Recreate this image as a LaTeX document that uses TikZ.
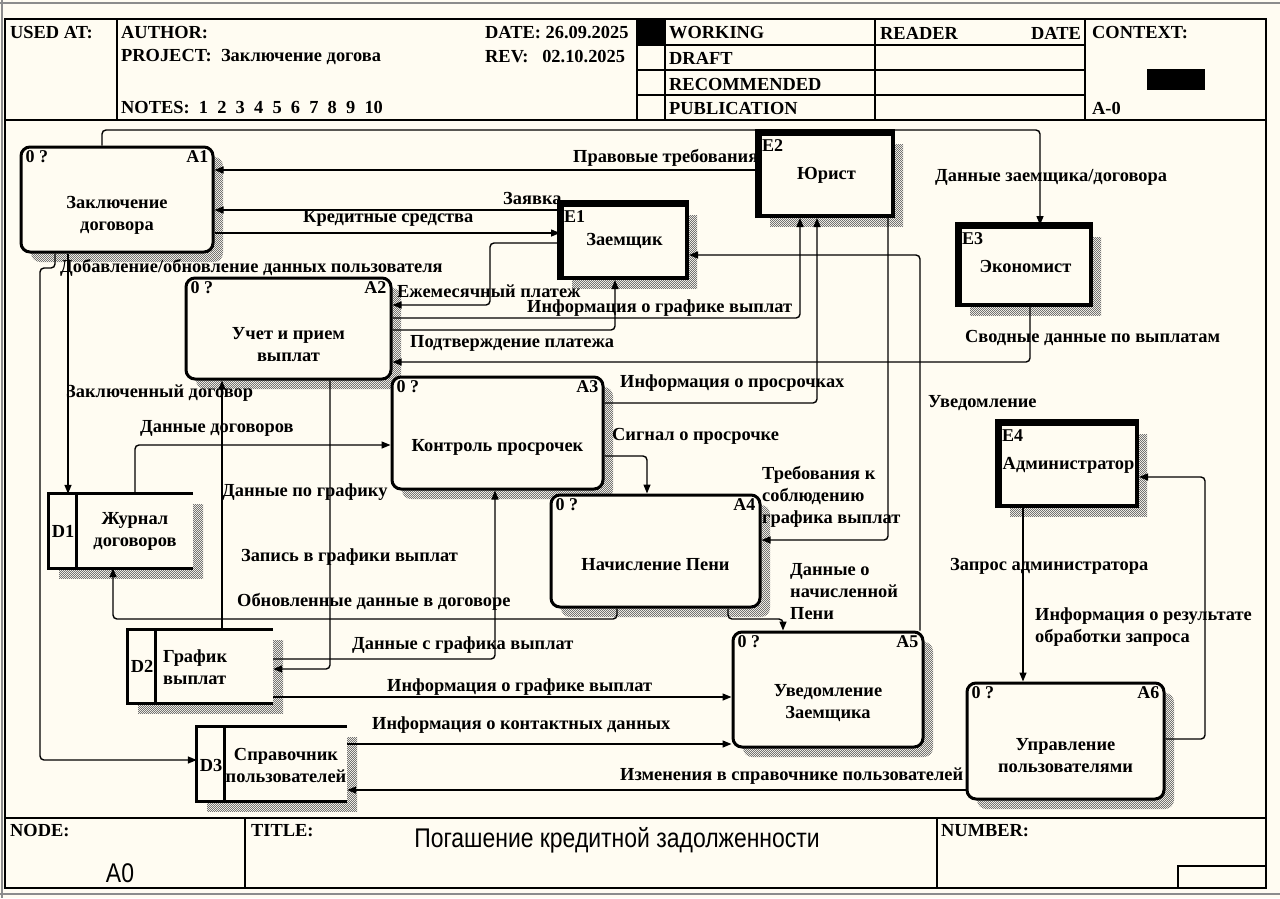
\documentclass[tikz,border=0pt]{standalone}
\usepackage{graphicx}
\usepackage{fontspec}
\setmainfont{Liberation Serif}
\newfontfamily\titlefont{Liberation Sans}
\usetikzlibrary{arrows.meta,shadows,patterns}

\definecolor{paper}{RGB}{255,252,242}

% fine checker used for the box shadows
\pgfdeclarepatternformonly{checker}{\pgfpointorigin}{\pgfqpoint{2.4pt}{2.4pt}}{\pgfqpoint{2.4pt}{2.4pt}}{%
  \pgfpathrectangle{\pgfpointorigin}{\pgfqpoint{1.2pt}{1.2pt}}%
  \pgfpathrectangle{\pgfqpoint{1.2pt}{1.2pt}}{\pgfqpoint{1.2pt}{1.2pt}}%
  \pgfusepath{fill}}

\tikzset{
  lbl/.style={font=\bfseries\fontsize{18.4}{22}\selectfont, inner sep=0pt, align=center},
  lblL/.style={lbl, align=left, anchor=west},
  tag/.style={font=\bfseries\fontsize{18}{20}\selectfont, inner xsep=6pt, inner ysep=5pt},
  etag/.style={tag, inner xsep=4pt, inner ysep=7pt},
  frame/.style={line width=1.6pt},
  flow/.style={draw, line width=1.4pt, rounded corners=4pt, -{Triangle[length=9pt,width=7pt]}},
  hatch/.style={general shadow={shadow xshift=10pt, shadow yshift=-10pt,
    pattern=checker, pattern color=black!55}},
  proc/.style={draw, line width=3pt, rounded corners=9pt, fill=paper, hatch},
  extent/.style={draw, line width=4pt, fill=paper, hatch, lbl},
  store/.style={fill=paper, hatch},
  storeline/.style={line width=3pt},
}

\begin{document}
\begin{tikzpicture}[x=1pt,y=-1pt]
	\useasboundingbox (0,0) rectangle (1280,898);
	\fill[paper] (0,0) rectangle (1280,898);

	% window edge
	\draw[black!45, line width=2pt] (0,3) -- (1280,3);
	\draw[black!45, line width=2pt] (2,0) -- (2,898);
	\draw[black!45, line width=2pt] (0,894) -- (1280,894);

	% form frame
	\draw[frame] (5,19) rectangle (1266,888);
	\draw[frame] (5,120) -- (1266,120);
	\draw[frame] (5,818) -- (1266,818);
	\draw[frame] (117,19) -- (117,120);
	\draw[frame] (637,19) -- (637,120);
	\draw[frame] (665,19) -- (665,120);
	\draw[frame] (875,19) -- (875,120);
	\draw[frame] (1085,19) -- (1085,120);
	\foreach \y in {45,70,95}
		\draw[frame] (637,\y) -- (1085,\y);
	\fill (637,19) rectangle (665,45);
	\fill (1147,69) rectangle (1205,90);
	\draw[frame] (245,818) -- (245,888);
	\draw[frame] (937,818) -- (937,888);
	\draw[frame] (1178,866) rectangle (1266,888);

	% header
	\node[lblL] (usedat) at (10,33) {USED AT:};
	\node[lblL] (author) at (121,33) {AUTHOR:};
	\node[lblL] (project) at (121,57) {PROJECT:\ \ Заключение догова};
	\node[lblL] (notes) at (121,108) {NOTES:\ \ 1\ \ 2\ \ 3\ \ 4\ \ 5\ \ 6\ \ 7\ \ 8\ \ 9\ \ 10};
	\node[lblL] (date) at (485,33) {DATE: 26.09.2025};
	\node[lblL] (rev) at (485,57) {REV:\ \ \ 02.10.2025};
	\node[lblL] (working) at (669,33) {WORKING};
	\node[lblL] (draft) at (669,58) {DRAFT};
	\node[lblL] (recom) at (669,84) {RECOMMENDED};
	\node[lblL] (public) at (669,108) {PUBLICATION};
	\node[lblL] (reader) at (880,33) {READER};
	\node[lbl, anchor=east] (rdate) at (1081,33) {DATE};
	\node[lblL] (context) at (1092,33) {CONTEXT:};
	\node[lblL] (ctxnode) at (1092,108) {A-0};

	% footer
	\node[lblL] (nodelbl) at (10,831) {NODE:};
	\node[lblL] (titlelbl) at (251,831) {TITLE:};
	\node[lblL] (numberlbl) at (941,831) {NUMBER:};
	\node[font=\titlefont\fontsize{27}{30}\selectfont, inner sep=0pt] (nodeno) at (120,873) {\scalebox{0.85}[1]{A0}};
	\node[font=\titlefont\fontsize{27}{30}\selectfont, inner sep=0pt] (title) at (617,840) {\scalebox{0.85}[1]{Погашение кредитной задолженности}};

	% activities
	\node[proc, minimum width=192pt, minimum height=105pt,
		label={[tag,anchor=north west]north west:0 ?},
		label={[tag,anchor=north east]north east:A1}] (A1) at (117,199.5) {};
	\node[lbl] (A1n) at ([yshift=-16pt]A1.center) {Заключение\\договора};

	\node[proc, minimum width=205pt, minimum height=101pt,
		label={[tag,anchor=north west]north west:0 ?},
		label={[tag,anchor=north east]north east:A2}] (A2) at (288.5,328.5) {};
	\node[lbl] (A2n) at ([yshift=-16pt]A2.center) {Учет и прием\\выплат};

	\node[proc, minimum width=211pt, minimum height=112pt,
		label={[tag,anchor=north west]north west:0 ?},
		label={[tag,anchor=north east]north east:A3}] (A3) at (497.5,433) {};
	\node[lbl] (A3n) at ([yshift=-14pt]A3.center) {Контроль просрочек};

	\node[proc, minimum width=209pt, minimum height=112pt,
		label={[tag,anchor=north west]north west:0 ?},
		label={[tag,anchor=north east]north east:A4}] (A4) at (655.5,551) {};
	\node[lbl] (A4n) at ([yshift=-14pt]A4.center) {Начисление Пени};

	\node[proc, minimum width=190pt, minimum height=115pt,
		label={[tag,anchor=north west]north west:0 ?},
		label={[tag,anchor=north east]north east:A5}] (A5) at (828,689.5) {};
	\node[lbl] (A5n) at ([yshift=-14pt]A5.center) {Уведомление\\Заемщика};

	\node[proc, minimum width=197pt, minimum height=116pt,
		label={[tag,anchor=north west]north west:0 ?},
		label={[tag,anchor=north east]north east:A6}] (A6) at (1065.5,741) {};
	\node[lbl] (A6n) at ([yshift=-15pt]A6.center) {Управление\\пользователями};

	% external entities
	\node[extent, minimum width=125pt, minimum height=73pt,
		label={[etag,anchor=north west]north west:E1}] (E1) at (624.5,241.5) {Заемщик};
	\draw[line width=7pt] (E1.south west) -- (E1.north west) -- (E1.north east);

	\node[extent, minimum width=133pt, minimum height=82pt,
		label={[etag,anchor=north west]north west:E2}] (E2) at (826.5,175) {Юрист};
	\draw[line width=7pt] (E2.south west) -- (E2.north west) -- (E2.north east);

	\node[extent, minimum width=131pt, minimum height=78pt,
		label={[etag,anchor=north west]north west:E3}] (E3) at (1025.5,266) {Экономист};
	\draw[line width=7pt] (E3.south west) -- (E3.north west) -- (E3.north east);

	\node[extent, minimum width=137pt, minimum height=82pt,
		label={[etag,anchor=north west]north west:E4}] (E4) at (1068.5,465) {Администратор};
	\draw[line width=7pt] (E4.south west) -- (E4.north west) -- (E4.north east);

	% data stores
	\node[store, minimum width=144pt, minimum height=74pt] (D1) at (121,531) {};
	\draw[storeline] (D1.north east) -- (D1.north west) -- (D1.south west) -- (D1.south east);
	\draw[storeline] ([xshift=28pt]D1.north west) -- ([xshift=28pt]D1.south west);
	\node[lbl] (D1k) at (63,531) {D1};
	\node[lbl] (D1n) at (135,531) {Журнал\\договоров};

	\node[store, minimum width=145pt, minimum height=73pt] (D2) at (200.5,666.5) {};
	\draw[storeline] (D2.north east) -- (D2.north west) -- (D2.south west) -- (D2.south east);
	\draw[storeline] ([xshift=28pt]D2.north west) -- ([xshift=28pt]D2.south west);
	\node[lbl] (D2k) at (142,666) {D2};
	\node[lblL] (D2n) at (163,667) {График\\выплат};

	\node[store, minimum width=150pt, minimum height=74pt] (D3) at (272,764) {};
	\draw[storeline] (D3.north east) -- (D3.north west) -- (D3.south west) -- (D3.south east);
	\draw[storeline] ([xshift=28pt]D3.north west) -- ([xshift=28pt]D3.south west);
	\node[lbl] (D3k) at (211,765) {D3};
	\node[lbl] (D3n) at (286,765) {Справочник\\пользователей};

	% flows
	\draw[flow] (A1.north -| 102,0) -- (102,130) -- (1040,130) -- (E3.north -| 1040,0);
	\draw[flow] (E2.west |- 0,170) -- (A1.east |- 0,170);
	\draw[flow] (E1.west |- 0,210) -- (A1.east |- 0,210);
	\draw[flow] (A1.east |- 0,233) -- (E1.west |- 0,233);
	\draw[flow] (A1.south -| 55,0) -- (55,268) -- (40,268) -- (40,760) -- (D3.west |- 0,760);
	\draw[flow] (A1.south -| 68,0) -- (D1.north -| 68,0);
	\draw[flow] (E1.west |- 0,243) -- (490,243) -- (490,305) -- (A2.east |- 0,305);
	\draw[flow] (A2.east |- 0,318) -- (800,318) -- (E2.south -| 800,0);
	\draw[flow] (A2.east |- 0,330) -- (615,330) -- (E1.south -| 615,0);
	\draw[flow] (E3.south -| 1030,0) |- (A2.east |- 0,362);
	\draw[flow] (A3.east |- 0,403) -| (E2.south -| 817,0);
	\draw[flow] (A3.east |- 0,456) -| (A4.north -| 647,0);
	\draw[flow] (E2.south -| 888,0) |- (A4.east |- 0,540);
	\draw[flow] (A5.north -| 920,0) |- (E1.east |- 0,255);
	\draw[flow] (A4.south -| 728,0) |- (783,619) -- (A5.north -| 783,0);
	\draw[flow] (A4.south -| 617,0) -- (617,619) -- (113,619) -- (D1.south -| 113,0);
	\draw[flow] (D1.north -| 135,0) |- (A3.west |- 0,445);
	\draw[flow] (D2.north -| 222,0) -- (A2.south -| 222,0);
	\draw[flow] (A2.south -| 330,0) |- (D2.east |- 0,669);
	\draw[flow] (D2.east |- 0,659) -| (A3.south -| 495,0);
	\draw[flow] (D2.east |- 0,697) -- (A5.west |- 0,697);
	\draw[flow] (D3.east |- 0,744) -- (A5.west |- 0,744);
	\draw[flow] (A6.west |- 0,790) -- (D3.east |- 0,790);
	\draw[flow] (E4.south -| 1023,0) -- (A6.north -| 1023,0);
	\draw[flow] (A6.east |- 0,739) -| (1205,477) -- (E4.east |- 0,477);

	% flow labels
	\node[lblL] (l1) at (935,177) {Данные заемщика/договора};
	\node[lblL] (l2) at (573,158) {Правовые требования};
	\node[lblL] (l3) at (503,198) {Заявка};
	\node[lblL] (l4) at (303,218) {Кредитные средства};
	\node[lblL] (l5) at (60,268) {Добавление/обновление данных пользователя};
	\node[lblL] (l6) at (397,291) {Ежемесячный платеж};
	\node[lblL] (l7) at (527,308) {Информация о графике выплат};
	\node[lblL] (l8) at (410,343) {Подтверждение платежа};
	\node[lblL] (l9) at (965,338) {Сводные данные по выплатам};
	\node[lblL] (l10) at (620,383) {Информация о просрочках};
	\node[lblL] (l11) at (66,393) {Заключенный договор};
	\node[lblL] (l12) at (928,403) {Уведомление};
	\node[lblL] (l13) at (140,428) {Данные договоров};
	\node[lblL] (l14) at (612,436) {Сигнал о просрочке};
	\node[lblL] (l15) at (762,497) {Требования к\\соблюдению\\графика выплат};
	\node[lblL] (l16) at (222,492) {Данные по графику};
	\node[lblL] (l17) at (241,557) {Запись в графики выплат};
	\node[lblL] (l18) at (950,566) {Запрос администратора};
	\node[lblL] (l19) at (790,592) {Данные о\\начисленной\\Пени};
	\node[lblL] (l20) at (237,602) {Обновленные данные в договоре};
	\node[lblL] (l21) at (1035,627) {Информация о результате\\обработки запроса};
	\node[lblL] (l22) at (352,645) {Данные с графика выплат};
	\node[lblL] (l23) at (387,687) {Информация о графике выплат};
	\node[lblL] (l24) at (372,725) {Информация о контактных данных};
	\node[lblL] (l25) at (620,776) {Изменения в справочнике пользователей};

\end{tikzpicture}
\end{document}
